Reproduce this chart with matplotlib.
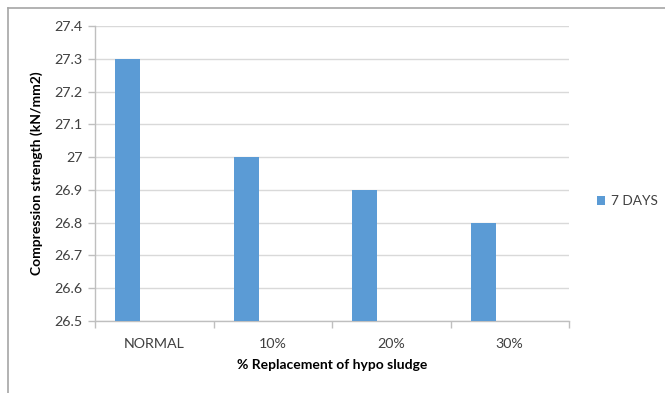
import matplotlib
matplotlib.use("Agg")
import matplotlib.pyplot as plt
from matplotlib.lines import Line2D
from matplotlib.patches import Patch
import numpy as np

categories = ["NORMAL", "10%", "20%", "30%"]
strength_7_days = [27.3, 27.0, 26.9, 26.8]
y_ticks = [26.5, 26.6, 26.7, 26.8, 26.9, 27.0, 27.1, 27.2, 27.3, 27.4]
y_tick_labels = ["26.5", "26.6", "26.7", "26.8", "26.9", "27", "27.1", "27.2", "27.3", "27.4"]

plt.rcParams["font.family"] = ["Lato", "DejaVu Sans"]

W, H = 665, 393
fig = plt.figure(figsize=(W / 100, H / 100), dpi=100)
fig.patch.set_facecolor("white")

left, right, top, bottom = 95, 569, 26, 321
ax = fig.add_axes([left / W, 1 - bottom / H, (right - left) / W, (bottom - top) / H])

bar_color = "#5B9BD5"
grid_color = "#D9D9D9"
axis_color = "#BFBFBF"
text_color = "#404040"

x = np.arange(len(categories))
bar_w = 0.211
offset = -0.5 + 0.169 + bar_w / 2
ax.bar(x + offset, [v - y_ticks[0] for v in strength_7_days], bottom=y_ticks[0],
       width=bar_w, color=bar_color, zorder=3)

ax.set_xlim(-0.5, len(categories) - 0.5)
ax.set_ylim(y_ticks[0], y_ticks[-1])
ax.set_yticks(y_ticks)
ax.set_yticklabels(y_tick_labels)
ax.yaxis.grid(True, color=grid_color, linewidth=1, zorder=0)
ax.set_axisbelow(True)

# category labels centered, tick marks on category boundaries
ax.set_xticks(x)
ax.set_xticklabels(categories)
ax.tick_params(axis="x", which="major", length=0, pad=12, labelsize=10.3, colors=text_color)
ax.set_xticks(np.arange(len(categories) + 1) - 0.5, minor=True)
ax.tick_params(axis="x", which="minor", length=5, color=axis_color, width=1)
ax.tick_params(axis="y", length=5, color=axis_color, width=1, labelsize=10.3,
               colors=text_color, pad=4)
ax.tick_params(axis="y", labelcolor=text_color)

for side in ["top", "right"]:
    ax.spines[side].set_visible(False)
for side in ["left", "bottom"]:
    ax.spines[side].set_color(axis_color)
    ax.spines[side].set_linewidth(1)

ax.set_xlabel("% Replacement of hypo sludge", fontsize=10, fontweight="bold",
              color="black", labelpad=7)
ax.set_ylabel("Compression strength (kN/mm2)", fontsize=10, fontweight="bold",
              color="black", labelpad=8)

leg = fig.legend(handles=[Patch(facecolor=bar_color, edgecolor="none")],
                 labels=["7 DAYS"], loc="center left",
                 bbox_to_anchor=(585 / W, 1 - 201 / H), frameon=False,
                 fontsize=9.8, handlelength=0.6, handleheight=0.6, handletextpad=0.4)
for t in leg.get_texts():
    t.set_color(text_color)

# chart frame
fig.add_artist(Line2D([8 / W, 1], [1 - 8 / H, 1 - 8 / H], color="#A6A6A6", lw=1.2,
                      transform=fig.transFigure))
fig.add_artist(Line2D([8 / W, 8 / W], [1 - 8 / H, 0], color="#A6A6A6", lw=1.2,
                      transform=fig.transFigure))

fig.savefig("out.png", dpi=100, facecolor="white")
